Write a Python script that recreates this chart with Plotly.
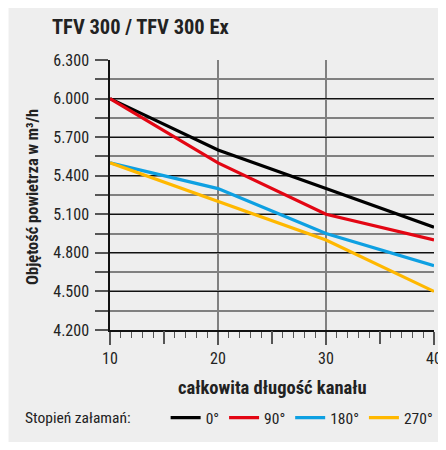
import plotly.graph_objects as go

lengths = [10, 20, 30, 40]
series_names = ["0°", "90°", "180°", "270°"]
flow_0 = [6000, 5600, 5300, 5000]
flow_90 = [6000, 5500, 5100, 4900]
flow_180 = [5500, 5300, 4950, 4700]
flow_270 = [5500, 5200, 4900, 4500]
colors = ["#000000", "#e30613", "#0ea0e2", "#ffb800"]
y_tick_vals = [4200, 4500, 4800, 5100, 5400, 5700, 6000, 6300]
y_tick_text = ["4.200", "4.500", "4.800", "5.100", "5.400", "5.700", "6.000", "6.300"]
x_tick_vals = [10, 20, 30, 40]
x_tick_text = ["10", "20", "30", "40"]
x_mid_ticks = [15, 25, 35]

FONT = "Liberation Sans Narrow, Roboto Condensed, Arial Narrow, Liberation Sans, sans-serif"

fig = go.Figure()
for name, vals, col in zip(series_names, [flow_0, flow_90, flow_180, flow_270], colors):
    fig.add_trace(go.Scatter(x=lengths, y=vals, mode="lines", name=name,
                             line=dict(color=col, width=3.2)))

# overlay axis for mid (5-unit) ticks
fig.add_trace(go.Scatter(x=[10, 40], y=[4200, 4200], mode="lines", xaxis="x2",
                         line=dict(width=0), showlegend=False, hoverinfo="skip"))

OFF = 8  # default page body margin
W, H = 446 - OFF, 450 - OFF
L, R, T, B = 110 - OFF, 4, 60 - OFF, 120
pw, ph = W - L - R, H - T - B

def px(x):  # x in reference page pixels
    return (x - OFF - L) / pw

def py(y):
    return (H - B - (y - OFF)) / ph

fig.update_layout(
    width=W, height=H,
    margin=dict(l=L, r=R, t=T, b=B),
    paper_bgcolor="white",
    plot_bgcolor="white",
    font=dict(family=FONT, size=14, color="#222"),
    showlegend=True,
    legend=dict(orientation="h", x=px(167), xanchor="left", y=py(418), yanchor="middle",
                font=dict(family=FONT, size=15.5, color="#222"),
                bgcolor="rgba(0,0,0,0)", borderwidth=0, traceorder="normal"),
    xaxis=dict(range=[10, 40], tickvals=x_tick_vals, ticktext=x_tick_text,
               showgrid=True, gridcolor="#808080", gridwidth=1.6,
               ticks="outside", ticklen=13, tickwidth=1.6, tickcolor="#555",
               showline=True, linecolor="#111", linewidth=1.5,
               minor=dict(dtick=1, ticks="outside", ticklen=6, tickwidth=1.3, tickcolor="#555", showgrid=False),
               zeroline=False, tickfont=dict(size=16, color="#222"), ticklabelstandoff=0,
               ticklabeloverflow="allow"),
    xaxis2=dict(range=[10, 40], overlaying="x", side="bottom", tickvals=x_mid_ticks,
                ticktext=["", "", ""], showgrid=False, ticks="outside", ticklen=13,
                tickwidth=1.6, tickcolor="#555", showline=False, zeroline=False),
    yaxis=dict(range=[4200, 6300], tickvals=y_tick_vals, ticktext=y_tick_text,
               showgrid=True, gridcolor="#111", gridwidth=1.3,
               ticks="outside", ticklen=13, tickwidth=1.6, tickcolor="#555",
               showline=True, linecolor="#111", linewidth=1.5,
               minor=dict(dtick=150, tick0=4200, ticks="outside", ticklen=13, tickwidth=1.6,
                          tickcolor="#555", showgrid=True, gridcolor="#808080", gridwidth=1.6),
               zeroline=False, tickfont=dict(size=16, color="#222"), ticklabelstandoff=3),
    shapes=[dict(type="rect", xref="paper", yref="paper", x0=px(6), x1=px(460),
                 y0=py(442), y1=py(-10), fillcolor="#eeeeee", line=dict(width=0), layer="below")],
    annotations=[
        dict(text="<b>TFV 300 / TFV 300 Ex</b>", xref="paper", yref="paper", x=px(49), y=py(27),
             xanchor="left", yanchor="middle", showarrow=False, font=dict(size=20.5, color="#222")),
        dict(text="<b>Objętość powietrza w m³/h</b>", xref="paper", yref="paper", x=px(30), y=py(197),
             xanchor="center", yanchor="middle", textangle=-90, showarrow=False,
             font=dict(size=16.5, color="#222")),
        dict(text="<b>całkowita długość kanału</b>", xref="paper", yref="paper", x=px(276), y=py(388),
             xanchor="center", yanchor="middle", showarrow=False, font=dict(size=18.5, color="#222")),
        dict(text="Stopień załamań:", xref="paper", yref="paper", x=px(21), y=py(418),
             xanchor="left", yanchor="middle", showarrow=False, font=dict(size=15.5, color="#222")),
    ],
)

fig.write_html("out.html")
